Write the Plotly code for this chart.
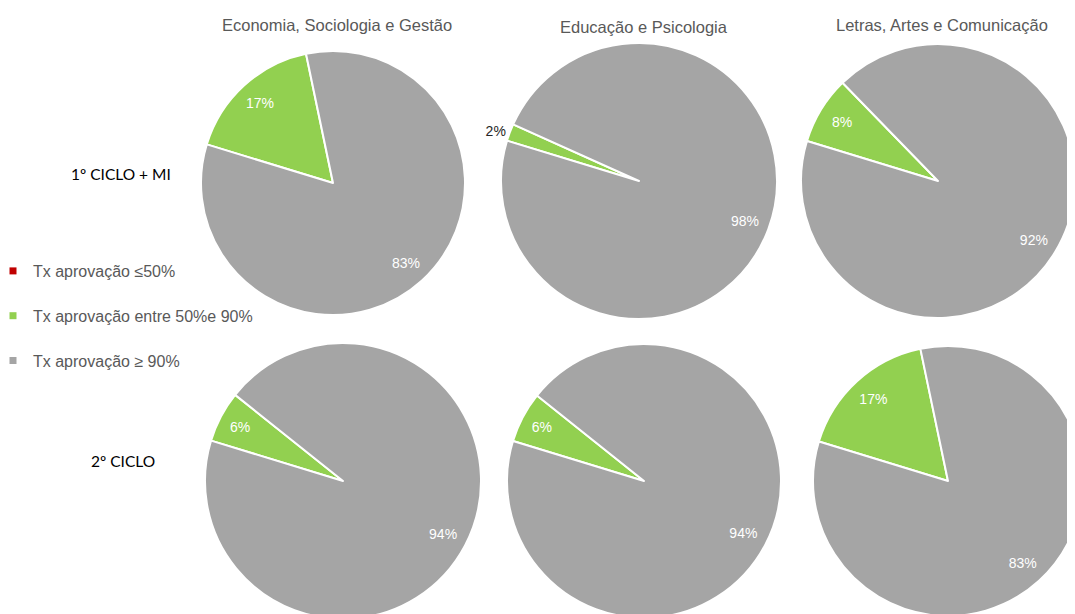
import plotly.graph_objects as go

# data
areas = ["Economia, Sociologia e Gestão", "Educação e Psicologia", "Letras, Artes e Comunicação"]
cycles = ["1º CICLO + MI", "2º CICLO"]
categories = ["Tx aprovação ≤50%", "Tx aprovação entre 50%e 90%", "Tx aprovação ≥ 90%"]
colors = ["#C00000", "#92D050", "#A5A5A5"]

low_1 = [0, 0, 0]
mid_1 = [17, 2, 8]
high_1 = [83, 98, 92]
low_2 = [0, 0, 0]
mid_2 = [6, 6, 17]
high_2 = [94, 94, 83]

W, H = 1075, 614
OFF = 8  # default body margin of the html page shifts the figure by 8px
NARROW = "Liberation Sans Narrow, Arial Narrow, Liberation Sans, sans-serif"

# pie centres / radii in screen px (row, col)
geom = {
    (0, 0): (333, 183, 132), (0, 1): (639, 181, 138), (0, 2): (938, 181, 137),
    (1, 0): (343, 481, 138), (1, 1): (644, 481, 137), (1, 2): (948, 481, 135),
}


def px(x, y):
    return (x - OFF) / W, 1 - (y - OFF) / H


def dom(cx, cy, r):
    cx, cy = cx - OFF, cy - OFF
    return dict(x=[max(0, (cx - r) / W), min(1, (cx + r) / W)],
                y=[max(0, 1 - (cy + r) / H), min(1, 1 - (cy - r) / H)])


fig = go.Figure()

rows = [(low_1, mid_1, high_1), (low_2, mid_2, high_2)]
for ri, (lo, mi, hi) in enumerate(rows):
    for ci in range(3):
        vals = [lo[ci], mi[ci], hi[ci]]
        d = dom(*geom[(ri, ci)])
        common = dict(labels=categories, values=vals, sort=False,
                      direction="clockwise", rotation=-73, domain=d,
                      showlegend=False)
        # solid pie
        fig.add_trace(go.Pie(
            marker=dict(colors=colors, line=dict(color="white", width=2)),
            textinfo="none", hoverinfo="label+percent", **common))
        # transparent ring carrying the labels near the rim
        small = mi[ci] < 4
        fig.add_trace(go.Pie(
            hole=0.64,
            marker=dict(colors=["rgba(0,0,0,0)"] * 3, line=dict(width=0)),
            texttemplate=["", "%{percent:.0%}", "%{percent:.0%}"],
            textposition=["inside", "outside" if small else "inside", "inside"],
            insidetextorientation="horizontal",
            insidetextfont=dict(color="white", size=14, family=NARROW),
            outsidetextfont=dict(color="#262626", size=14, family=NARROW),
            hoverinfo="skip", **common))

# legend entries
for name, col in zip(categories, colors):
    fig.add_trace(go.Scatter(x=[None], y=[None], mode="markers", name=name,
                             legendgroup=name,
                             marker=dict(symbol="square", size=7, color=col)))

# column titles
for t, (x, y) in zip(areas, [(337, 25), (644, 27), (942, 25)]):
    ax, ay = px(x, y)
    fig.add_annotation(text=t, x=ax, y=ay, xref="paper", yref="paper",
                       showarrow=False, xanchor="center", yanchor="middle",
                       font=dict(size=16.5, color="#595959", family=NARROW))

# row labels
for t, (x, y) in zip(cycles, [(121, 174), (123, 461)]):
    ax, ay = px(x, y)
    fig.add_annotation(text=t, x=ax, y=ay, xref="paper", yref="paper",
                       showarrow=False, xanchor="center", yanchor="middle",
                       font=dict(size=15.5, color="black", family="Lato, sans-serif"))

lx, ly = px(-7, 254)
fig.update_layout(
    width=W, height=H,
    margin=dict(l=0, r=0, t=0, b=0, autoexpand=False),
    paper_bgcolor="white", plot_bgcolor="white",
    xaxis=dict(visible=False), yaxis=dict(visible=False),
    uniformtext=dict(minsize=13, mode="show"),
    legend=dict(x=lx, y=ly, xanchor="left", yanchor="top",
                tracegroupgap=21, itemwidth=30, bgcolor="rgba(0,0,0,0)",
                font=dict(size=16, color="#595959", family=NARROW)),
)

fig.write_html("out.html")
